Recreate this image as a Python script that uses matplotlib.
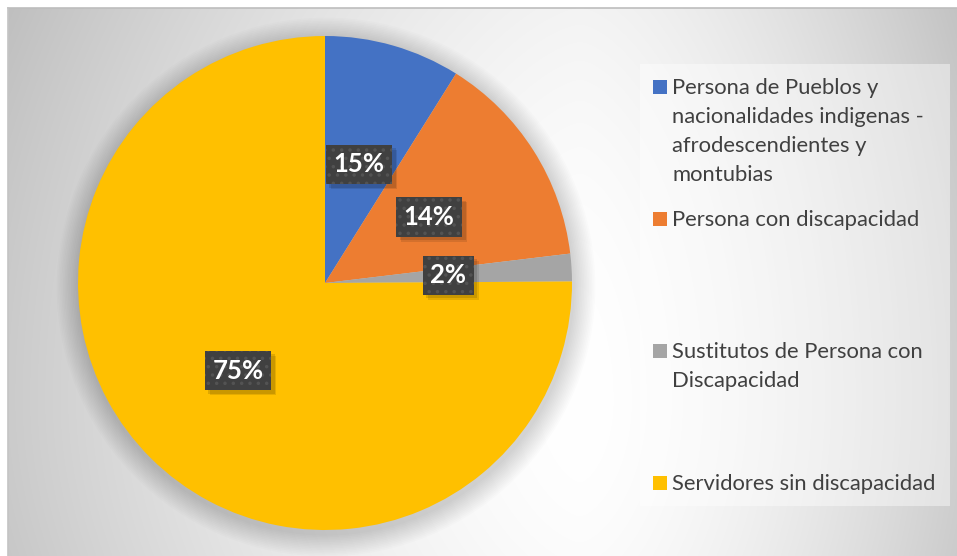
import numpy as np
import matplotlib
matplotlib.use("Agg")
import matplotlib.pyplot as plt
from matplotlib.patches import Rectangle, Circle

# ---- data ----
categories = [
    "Persona de Pueblos y\nnacionalidades indigenas -\nafrodescendientes y\nmontubias",
    "Persona con discapacidad",
    "Sustitutos de Persona con\nDiscapacidad",
    "Servidores sin discapacidad",
]
slice_values = [8.9, 14.2, 1.8, 75.1]
data_labels = ["15%", "14%", "2%", "75%"]
colors = ["#4472C4", "#ED7D31", "#A5A5A5", "#FFC000"]

plt.rcParams["hatch.color"] = "#535353"
plt.rcParams["hatch.linewidth"] = 1.3

W, H = 957, 556
fig = plt.figure(figsize=(W / 100, H / 100), dpi=100)
fig.patch.set_facecolor("white")
ax = fig.add_axes([0, 0, 1, 1])

# ---- background gradient of chart area ----
px = np.arange(8, W) + 0.5
py = np.arange(8, H) + 0.5
X, Y = np.meshgrid(px, py)
cx, cy = 580.0, 400.0
nx = np.where(X < cx, (cx - X) / (cx - 8), (X - cx) / (W - cx))
fx = np.where(X < cx, nx ** 1.5, nx ** 1.6 * 0.92)
fy = np.where(Y < cy, ((cy - Y) / (cy - 8)) ** 2, 0.3 * ((Y - cy) / (H - cy)) ** 2)
I = np.clip(1 - (52 * fx + 12 * fy) / 255, 0, 1)
img = np.dstack([I, I, I])
ax.imshow(img, extent=[8, W, 0, H - 8], origin="upper", zorder=0,
          interpolation="bilinear", aspect="auto")
ax.plot([8, W], [H - 8, H - 8], color="#bdbdbd", lw=1.2, zorder=1)
ax.plot([8, 8], [0, H - 8], color="#c4c4c4", lw=1.2, zorder=1)

# ---- pie ----
pc = (325, H - 283)
R = 247
for i in range(1, 15):
    ax.add_patch(Circle((pc[0] + 1, pc[1] - 4), R + 1.6 * i, facecolor="k",
                        alpha=0.012, lw=0, zorder=1.5))

wedges, texts = ax.pie(slice_values, colors=colors, startangle=90, counterclock=False,
                       center=pc, radius=R, labels=data_labels, labeldistance=0.5,
                       wedgeprops=dict(linewidth=0))
for w in wedges:
    w.set_zorder(2)
for t in texts:
    t.set_ha("center")
    t.set_va("center")
    t.set_color("white")
    t.set_fontfamily("Lato")
    t.set_fontweight("bold")
    t.set_fontsize(18.5)
    t.set_zorder(5)
    t.set_bbox(dict(boxstyle="square,pad=0.3", facecolor="#404040",
                    edgecolor="#535353", linewidth=0, hatch=".."))

# ---- legend ----
ax.add_patch(Rectangle((640, H - 506), 310, 442, facecolor="white", alpha=0.42,
                       lw=0, zorder=1))
baselines = [94, 226, 358, 490]
line_step = 29
for cat, col, b in zip(categories, colors, baselines):
    ax.add_patch(Rectangle((653, H - b), 14, 14, facecolor=col, lw=0, zorder=3))
    for j, line in enumerate(cat.split("\n")):
        ax.text(672, H - (b + j * line_step), line, ha="left", va="baseline",
                fontfamily="Lato", fontsize=15.8, color="#404040", zorder=3)

ax.set_xlim(0, W)
ax.set_ylim(0, H)
ax.set_aspect("auto")
ax.axis("off")

# label box shadows (offset down-right)
fig.canvas.draw()
inv = ax.transData.inverted()
for t in texts:
    bb = t.get_bbox_patch().get_window_extent()
    (x0, y0), (x1, y1) = inv.transform([[bb.x0, bb.y0], [bb.x1, bb.y1]])
    for k, a in [(5, 0.10), (3.5, 0.12)]:
        ax.add_patch(Rectangle((x0 + k, y0 - k), x1 - x0, y1 - y0, facecolor="black",
                               alpha=a, lw=0, zorder=4))

fig.savefig("out.png", dpi=100, facecolor="white")
